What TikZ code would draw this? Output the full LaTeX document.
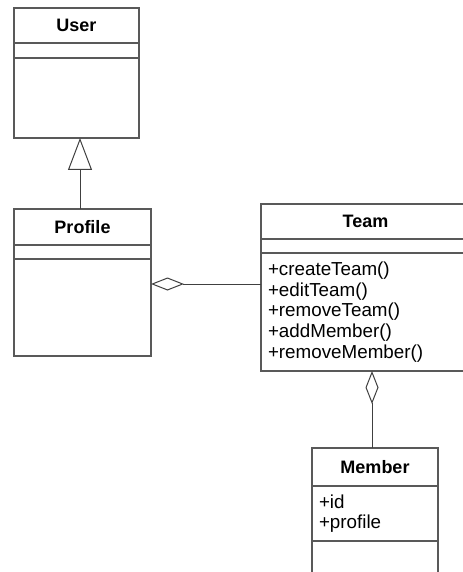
\documentclass[tikz,border=0pt]{standalone}
\usepackage{fontspec}
\setmainfont{Liberation Sans}
\usetikzlibrary{arrows.meta,positioning}

\begin{document}
\begin{tikzpicture}[
    node distance=0pt,
    every node/.style={font=\fontsize{9.4}{10.35}\selectfont},
    part/.style={draw=black!65, line width=0.7pt, inner xsep=3.5pt, inner ysep=0pt, outer sep=0pt},
    title/.style={part, font=\fontsize{9}{10.35}\selectfont\bfseries, align=center},
    items/.style={part, align=left},
    gen/.style={-{Triangle[open, length=16pt, width=12pt]}, draw=black!75, line width=0.5pt},
    agg/.style={-{Diamond[open, length=16.5pt, width=6.5pt]}, draw=black!75, line width=0.5pt}
]
\useasboundingbox (0,0) rectangle (231pt,-286pt);
% User
\node[title, text width=55.5pt, minimum height=17.5pt, anchor=north west] (userhead) at (7pt,-4pt) {User};
\node[items, text width=55.5pt, minimum height=7.5pt, below=of userhead] (userattr) {};
\node[items, text width=55.5pt, minimum height=40pt, below=of userattr] (userops) {};
% Profile
\node[title, text width=61.5pt, minimum height=18pt, anchor=north west] (profilehead) at (7pt,-104.5pt) {Profile};
\node[items, text width=61.5pt, minimum height=7pt, below=of profilehead] (profileattr) {};
\node[items, text width=61.5pt, minimum height=48.5pt, below=of profileattr] (profileops) {};
% Team
\node[title, text width=97.5pt, minimum height=17.5pt, anchor=north west] (teamhead) at (130.5pt,-102pt) {Team};
\node[items, text width=97.5pt, minimum height=7pt, below=of teamhead] (teamattr) {};
\node[items, text width=97.5pt, minimum height=59pt, below=of teamattr] (teamops) {+createTeam()\\+editTeam()\\+removeTeam()\\+addMember()\\+removeMember()};
% Member
\node[title, text width=56pt, minimum height=19pt, anchor=north west] (memberhead) at (156pt,-224pt) {Member};
\node[items, text width=56pt, minimum height=27.5pt, below=of memberhead] (memberattr) {+id\\+profile};
\node[items, text width=56pt, minimum height=30pt, below=of memberattr] (memberops) {};

\draw[gen] ([xshift=-1.25pt]profilehead.north) -- ([xshift=-1.25pt]profilehead.north |- userops.south);
\draw[agg] ([yshift=14pt]teamops.west) -- ([yshift=14pt]teamops.west -| profileops.east);
\draw[agg] ([xshift=-1.5pt]memberhead.north) -- ([xshift=-1.5pt]memberhead.north |- teamops.south);
\end{tikzpicture}
\end{document}
